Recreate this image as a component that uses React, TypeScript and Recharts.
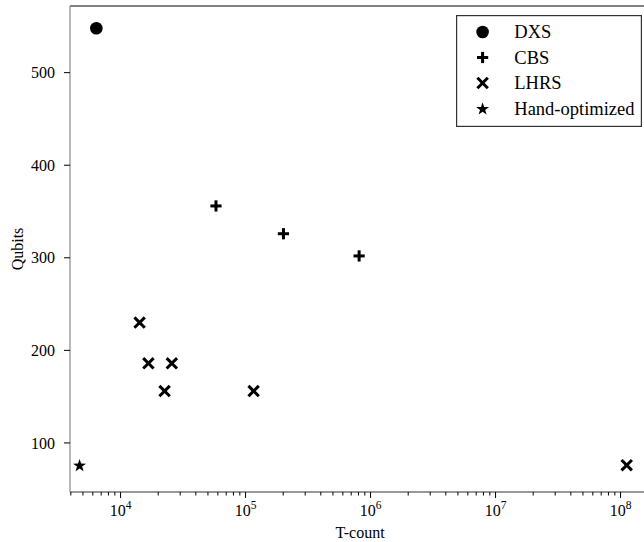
import React from "react";
import {
  ScatterChart, Scatter, XAxis, YAxis, ReferenceLine, Legend,
} from "recharts";

// values (x = T-count, y = qubits)
const DXS_X = [6400];
const DXS_Y = [548];
const CBS_X = [58000, 201000, 810000];
const CBS_Y = [356, 326, 302];
const LHRS_X = [14200, 16700, 25700, 22500, 116000, 112000000];
const LHRS_Y = [230, 186, 186, 156, 156, 76];
const HAND_X = [4700];
const HAND_Y = [76];

const Y_TICKS = [100, 200, 300, 400, 500];
const X_MAJOR = [1e4, 1e5, 1e6, 1e7, 1e8];
const X_DECADES = [1e3, 1e4, 1e5, 1e6, 1e7, 1e8];
const X_MINOR_STEPS = [2, 3, 4, 5, 6, 7, 8, 9];

const X_DOMAIN: [number, number] = [3940, 1.72e8];
const Y_DOMAIN: [number, number] = [47, 572];

const X_TICKS = [
  ...X_MAJOR,
  ...X_DECADES.flatMap(d => X_MINOR_STEPS.map(s => s * d)),
].filter(v => v >= X_DOMAIN[0] && v <= X_DOMAIN[1]).sort((a, b) => a - b);

const FONT = '"Liberation Serif", "DejaVu Serif", serif';
const INK = "#000";

const toPoints = (xs: number[], ys: number[]) => xs.map((x, i) => ({ x, y: ys[i] }));

// marker glyphs, drawn around (cx, cy)
function Dot({ cx, cy }: any) {
  return <circle cx={cx} cy={cy} r={6.3} fill={INK} />;
}

function Plus({ cx, cy }: any) {
  const h = 5.6;
  return (
    <g stroke={INK} strokeWidth={3}>
      <line x1={cx - h} y1={cy} x2={cx + h} y2={cy} />
      <line x1={cx} y1={cy - h} x2={cx} y2={cy + h} />
    </g>
  );
}

function Cross({ cx, cy }: any) {
  const h = 5.2;
  return (
    <g stroke={INK} strokeWidth={3}>
      <line x1={cx - h} y1={cy - h} x2={cx + h} y2={cy + h} />
      <line x1={cx - h} y1={cy + h} x2={cx + h} y2={cy - h} />
    </g>
  );
}

function Star({ cx, cy }: any) {
  const pts: string[] = [];
  for (let i = 0; i < 10; i++) {
    const r = i % 2 ? 2.7 : 6.8;
    const a = (-90 + i * 36) * Math.PI / 180;
    pts.push(`${cx + r * Math.cos(a)},${cy + 0.6 + r * Math.sin(a)}`);
  }
  return <polygon points={pts.join(" ")} fill={INK} />;
}

const SERIES = [
  { name: "DXS", Shape: Dot },
  { name: "CBS", Shape: Plus },
  { name: "LHRS", Shape: Cross },
  { name: "Hand-optimized", Shape: Star },
];

function XTick({ x, y, payload }: any) {
  const v: number = payload.value;
  const major = X_MAJOR.includes(v);
  const exp = Math.round(Math.log10(v));
  return (
    <g>
      <line x1={x} y1={y} x2={x} y2={y + (major ? 6 : 3.5)} stroke={INK} strokeWidth={1} />
      {major && (
        <text x={x} y={y + 24} textAnchor="middle" fontSize={16} fill={INK} fontFamily={FONT}>
          <tspan>10</tspan>
          <tspan dy={-7} fontSize={11.5}>{exp}</tspan>
        </text>
      )}
    </g>
  );
}

function YLabel({ viewBox }: any) {
  const cx = 17;
  const cy = viewBox.y + viewBox.height / 2;
  return (
    <text x={cx} y={cy} transform={`rotate(-90, ${cx}, ${cy})`} textAnchor="middle"
      dominantBaseline="central" fontSize={16} fill={INK} fontFamily={FONT}>
      Qubits
    </text>
  );
}

function LegendBox() {
  return (
    <svg width={186} height={112} style={{ display: "block" }}>
      <rect x={0.6} y={0.6} width={184.8} height={110.8} fill="#fff" stroke="#333" strokeWidth={1.2} />
      {SERIES.map(({ name, Shape }, i) => {
        const cy = 17 + i * 25.5;
        return (
          <g key={name}>
            <Shape cx={26.6} cy={cy} />
            <text x={58.3} y={cy + 6.2} fontSize={18.5} fill={INK} fontFamily={FONT}>{name}</text>
          </g>
        );
      })}
    </svg>
  );
}

export default function App() {
  return (
    <div style={{
      position: "absolute", left: 0, top: 0, width: 644, height: 542,
      overflow: "hidden", background: "#fff", fontFamily: FONT,
    }}>
      <ScatterChart width={660} height={542} margin={{ top: 6, right: 10, left: 0, bottom: 0 }}>
        <XAxis
          type="number"
          dataKey="x"
          scale="log"
          domain={X_DOMAIN}
          allowDataOverflow
          ticks={X_TICKS}
          interval={0}
          tick={(props: any) => <XTick {...props} />}
          tickLine={false}
          tickSize={0}
          tickMargin={0}
          axisLine={{ stroke: "#333", strokeWidth: 1.2 }}
          height={50}
          label={{ value: "T-count", position: "insideBottom", offset: 4, fill: INK, fontSize: 16 }}
        />
        <YAxis
          type="number"
          dataKey="y"
          domain={Y_DOMAIN}
          allowDataOverflow
          ticks={Y_TICKS}
          interval={0}
          width={70}
          tickSize={6}
          tickMargin={9}
          tickLine={{ stroke: INK }}
          axisLine={{ stroke: "#888", strokeWidth: 1.2 }}
          tick={{ fontSize: 16, fill: INK }}
          label={{ content: (p: any) => <YLabel {...p} /> }}
        />
        <ReferenceLine y={Y_DOMAIN[1]} stroke={INK} strokeWidth={1.2} />
        <Scatter name="DXS" data={toPoints(DXS_X, DXS_Y)} shape={(p: any) => <Dot {...p} />} isAnimationActive={false} />
        <Scatter name="CBS" data={toPoints(CBS_X, CBS_Y)} shape={(p: any) => <Plus {...p} />} isAnimationActive={false} />
        <Scatter name="LHRS" data={toPoints(LHRS_X, LHRS_Y)} shape={(p: any) => <Cross {...p} />} isAnimationActive={false} />
        <Scatter name="Hand-optimized" data={toPoints(HAND_X, HAND_Y)} shape={(p: any) => <Star {...p} />} isAnimationActive={false} />
        <Legend
          layout="vertical"
          align="center"
          verticalAlign="middle"
          content={() => <LegendBox />}
          wrapperStyle={{ top: 14.7, left: 455.7, width: 186, height: 112 }}
        />
      </ScatterChart>
    </div>
  );
}
